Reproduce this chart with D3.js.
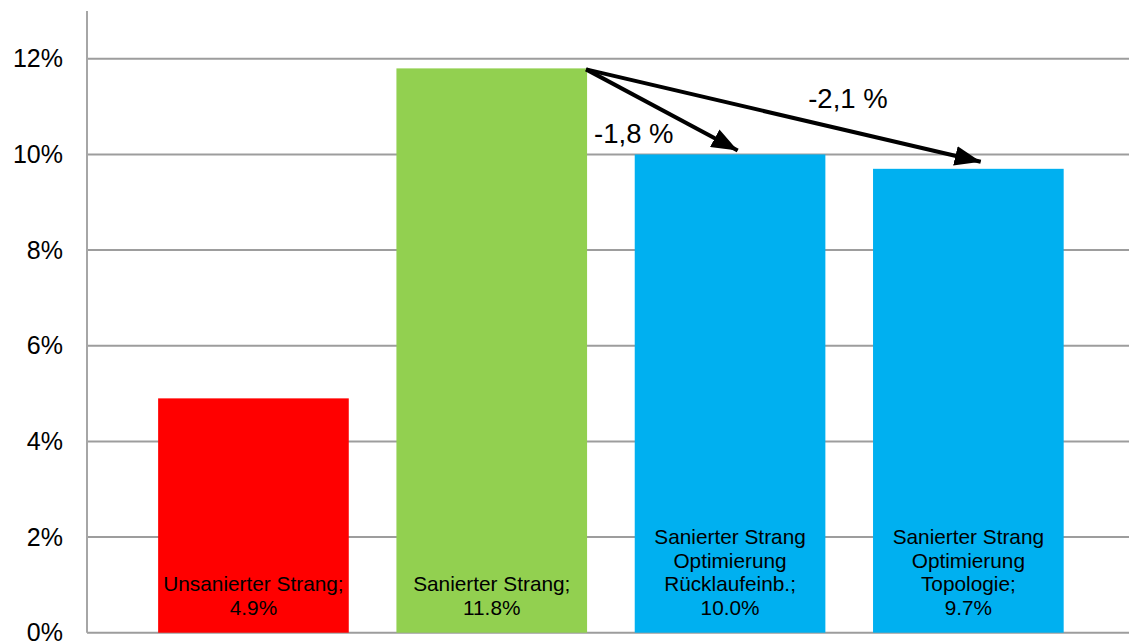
<!DOCTYPE html>
<html>
<head>
<meta charset="utf-8">
<script src="https://cdn.jsdelivr.net/npm/d3@7"></script>
<style>
  html, body { margin: 0; padding: 0; background: #fff; }
  svg { display: block; font-family: "Liberation Sans", Arial, sans-serif; }
</style>
</head>
<body>
<svg id="chart" width="1129" height="642"></svg>
<script>
// Share values per variant (percent)
const categories = [
  "Unsanierter Strang",
  "Sanierter Strang",
  "Sanierter Strang\nOptimierung\nRücklaufeinb.",
  "Sanierter Strang\nOptimierung\nTopologie"
];
const values = [4.9, 11.8, 10.0, 9.7];
const barColors = ["#FF0000", "#92D050", "#00B0F0", "#00B0F0"];
const yTicks = [0, 2, 4, 6, 8, 10, 12];

// Difference arrows from the renovated line to the two optimised variants
const deltaFrom = [1, 1];
const deltaTo = [2, 3];
const deltaLabels = ["-1,8 %", "-2,1 %"];

const svg = d3.select("#chart");
const W = 1129;

const axisX = 87;
const y = d3.scaleLinear().domain([0, 13]).range([632.7, 11]);
const x = d3.scaleBand()
  .domain(d3.range(categories.length))
  .range([134.3, 1087.5])
  .paddingInner(0.2)
  .paddingOuter(0.1);

// Horizontal gridlines
svg.append("g").selectAll("line")
  .data(yTicks)
  .join("line")
  .attr("x1", axisX).attr("x2", W)
  .attr("y1", d => y(d)).attr("y2", d => y(d))
  .attr("stroke", "#9d9d9d")
  .attr("stroke-width", 2);

// Vertical axis line
svg.append("line")
  .attr("x1", axisX).attr("x2", axisX)
  .attr("y1", y(13)).attr("y2", y(0))
  .attr("stroke", "#a6a6a6")
  .attr("stroke-width", 2);

// Tick labels
svg.append("g").selectAll("text")
  .data(yTicks)
  .join("text")
  .attr("x", 63)
  .attr("y", d => y(d) + 8.5)
  .attr("text-anchor", "end")
  .attr("font-size", 25)
  .attr("fill", "#000")
  .text(d => d + "%");

// Bars
svg.append("g").selectAll("rect")
  .data(values)
  .join("rect")
  .attr("x", (d, i) => x(i))
  .attr("y", d => y(d))
  .attr("width", x.bandwidth())
  .attr("height", d => y(0) - y(d))
  .attr("fill", (d, i) => barColors[i]);

// Data labels inside the bars, stacked upward from the base
const lineH = 23.6;
values.forEach((v, i) => {
  const lines = categories[i].split("\n");
  lines[lines.length - 1] += ";";
  lines.push(v.toFixed(1) + "%");
  const t = svg.append("text")
    .attr("text-anchor", "middle")
    .attr("font-size", 20.8)
    .attr("fill", "#000");
  const n = lines.length;
  lines.forEach((s, k) => {
    t.append("tspan")
      .attr("x", x(i) + x.bandwidth() / 2)
      .attr("y", 615 - (n - 1 - k) * lineH)
      .text(s);
  });
});

// Arrow marker
svg.append("defs").append("marker")
  .attr("id", "arrowHead")
  .attr("viewBox", "0 0 13 10")
  .attr("refX", 13).attr("refY", 5)
  .attr("markerUnits", "userSpaceOnUse")
  .attr("markerWidth", 26).attr("markerHeight", 20)
  .attr("orient", "auto")
  .append("path")
  .attr("d", "M0,0 L13,5 L0,10 Z")
  .attr("fill", "#000");

const startX = x(deltaFrom[0]) + x.bandwidth() - 1;
const startY = y(values[deltaFrom[0]]) + 1;
const tipOffsetY = [-4, -7];
deltaTo.forEach((j, k) => {
  const ex = x(j) + x.bandwidth() * (k === 0 ? 0.54 : 0.565);
  const ey = y(values[j]) + tipOffsetY[k];
  svg.append("line")
    .attr("x1", startX).attr("y1", startY)
    .attr("x2", ex).attr("y2", ey)
    .attr("stroke", "#000")
    .attr("stroke-width", 4)
    .attr("marker-end", "url(#arrowHead)");
});

// Difference labels
svg.append("text")
  .attr("x", x(deltaFrom[0]) + x.bandwidth() + 7)
  .attr("y", y(values[deltaTo[0]]) - 11)
  .attr("font-size", 27.5)
  .attr("fill", "#000")
  .text(deltaLabels[0]);

svg.append("text")
  .attr("x", x(deltaTo[0]) + x.bandwidth() * 0.91)
  .attr("y", y(values[deltaTo[1]]) - 61)
  .attr("font-size", 27.5)
  .attr("fill", "#000")
  .text(deltaLabels[1]);
</script>
</body>
</html>
